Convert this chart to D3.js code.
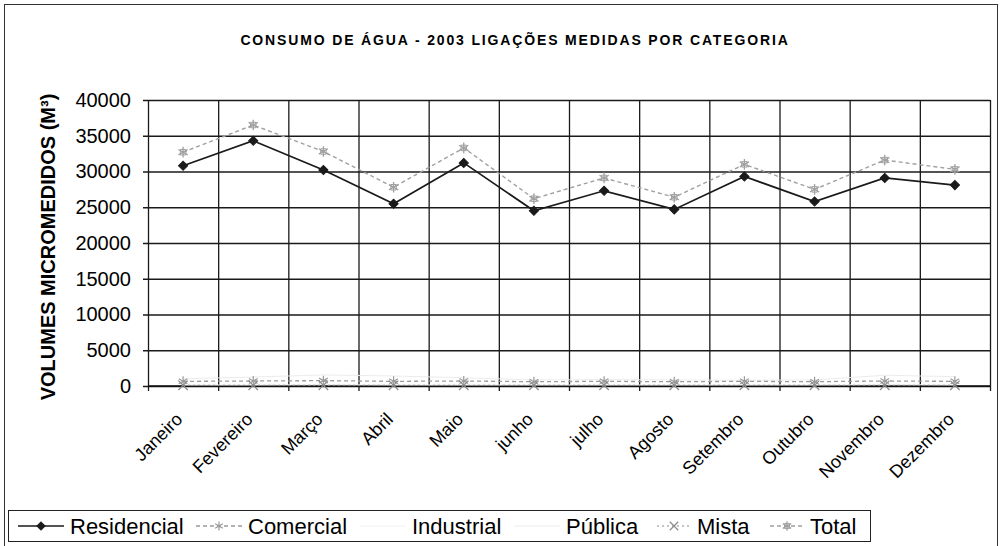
<!DOCTYPE html>
<html>
<head>
<meta charset="utf-8">
<script src="https://cdn.jsdelivr.net/npm/d3@7"></script>
<style>
  body { margin: 0; background: #fff; }
  svg { font-family: Arial, "Liberation Sans", sans-serif; }
  .grid line { stroke: #1a1a1a; stroke-width: 1.3; }
  .grid path { display: none; }
  .ytick text { font-size: 20px; fill: #000; }
  .xlab text { font-size: 18px; fill: #000; }
  .legend text { font-size: 22px; fill: #000; }
</style>
</head>
<body>
<svg width="1001" height="546"></svg>
<script>
// dados (m³ por mês)
var months = ['Janeiro', 'Fevereiro', 'Março', 'Abril', 'Maio', 'junho', 'julho',
  'Agosto', 'Setembro', 'Outubro', 'Novembro', 'Dezembro'];
var residencial = [30800, 34300, 30200, 25500, 31200, 24500, 27300, 24700, 29300, 25800, 29100, 28100];
var comercial = [650, 700, 750, 650, 700, 600, 650, 600, 650, 600, 700, 650];
var industrial = [150, 150, 200, 150, 150, 150, 150, 150, 150, 150, 200, 150];
var publica = [1000, 1250, 1550, 1400, 1150, 850, 900, 850, 800, 850, 1500, 1300];
var mista = [100, 100, 100, 100, 100, 100, 100, 100, 100, 100, 100, 100];
var total = [32700, 36500, 32800, 27800, 33300, 26200, 29100, 26400, 31000, 27500, 31600, 30300];
var yTicks = [0, 5000, 10000, 15000, 20000, 25000, 30000, 35000, 40000];

var svg = d3.select('svg');
var plot = { left: 148, right: 990, top: 100, bottom: 386 };

// moldura externa
svg.append('rect')
  .attr('x', 4.5).attr('y', 4.5)
  .attr('width', 993).attr('height', 600)
  .attr('fill', 'none').attr('stroke', '#333').attr('stroke-width', 1);

// titulo
svg.append('text')
  .attr('x', 515).attr('y', 45)
  .attr('text-anchor', 'middle')
  .style('font-size', '14px')
  .style('font-weight', 'bold')
  .style('letter-spacing', '1.85px')
  .text('CONSUMO DE ÁGUA - 2003 LIGAÇÕES MEDIDAS POR CATEGORIA');

var xBand = d3.scaleBand().domain(months).range([plot.left, plot.right]).padding(0);
var xEdge = d3.scaleLinear().domain([0, months.length]).range([plot.left, plot.right]);
var yScale = d3.scaleLinear().domain([0, 40000]).range([plot.bottom, plot.top]);
function cx(i) { return xBand(months[i]) + xBand.bandwidth() / 2; }

// grade horizontal + rótulos do eixo y
svg.append('g')
  .attr('class', 'grid ytick')
  .attr('transform', 'translate(' + plot.left + ',0)')
  .call(d3.axisLeft(yScale).tickValues(yTicks)
    .tickSize(-(plot.right - plot.left)).tickPadding(17)
    .tickFormat(d3.format('d')))
  .call(function(g) {
    g.selectAll('.tick line').attr('x1', -5);
  });

// grade vertical (limites das categorias)
svg.append('g')
  .attr('class', 'grid')
  .attr('transform', 'translate(0,' + plot.bottom + ')')
  .call(d3.axisBottom(xEdge).tickValues(d3.range(0, months.length + 1))
    .tickSize(-(plot.bottom - plot.top)).tickFormat(''))
  .call(function(g) {
    g.selectAll('.tick line').attr('y1', 5);
  });

// eixo x (linha do zero)
svg.append('line')
  .attr('x1', plot.left).attr('x2', plot.right)
  .attr('y1', plot.bottom).attr('y2', plot.bottom)
  .attr('stroke', '#111').attr('stroke-width', 1.6);

// rótulos do mês, inclinados
svg.append('g').attr('class', 'xlab')
  .selectAll('text')
  .data(months)
  .enter().append('text')
  .attr('transform', function(d, i) { return 'translate(' + (cx(i) - 4) + ',416) rotate(-45)'; })
  .attr('text-anchor', 'end')
  .attr('dy', '0.35em')
  .text(function(d) { return d; });

// axis label
svg.append('text')
  .attr('transform', 'translate(55,' + ((plot.top + plot.bottom) / 2 + 4) + ') rotate(-90)')
  .attr('text-anchor', 'middle')
  .style('font-size', '20px')
  .style('font-weight', 'bold')
  .text('VOLUMES MICROMEDIDOS (M³)');

var series = [
  { name: 'Residencial', values: residencial, color: '#1a1a1a', width: 1.7, dash: null, marker: 'diamond' },
  { name: 'Comercial', values: comercial, color: '#9a9a9a', width: 1.3, dash: '4,3', marker: 'asterisk' },
  { name: 'Industrial', values: industrial, color: '#f2f2f2', width: 1, dash: null, marker: 'none' },
  { name: 'Pública', values: publica, color: '#ececec', width: 1, dash: null, marker: 'none' },
  { name: 'Mista', values: mista, color: '#8a8a8a', width: 1.2, dash: '2,3', marker: 'cross' },
  { name: 'Total', values: total, color: '#a0a0a0', width: 1.4, dash: '4,3', marker: 'star' }
];

var line = d3.line()
  .x(function(d, i) { return cx(i); })
  .y(function(d) { return yScale(d); });

function drawMarker(g, type, color, scale) {
  var k = scale || 1;
  if (type === 'diamond') {
    g.append('path').attr('d', d3.symbol(d3.symbolSquare, 42 * k)())
      .attr('transform', 'rotate(45)')
      .attr('fill', color).attr('stroke', color);
  } else if (type === 'asterisk') {
    g.append('path').attr('d', d3.symbol(d3.symbolAsterisk, 70 * k)())
      .attr('fill', 'none').attr('stroke', color).attr('stroke-width', 1.2);
  } else if (type === 'cross') {
    g.append('path').attr('d', d3.symbol(d3.symbolTimes, 60 * k)())
      .attr('fill', 'none').attr('stroke', color).attr('stroke-width', 1.2);
  } else if (type === 'star') {
    g.append('path').attr('d', d3.symbol(d3.symbolAsterisk, 80 * k)())
      .attr('fill', 'none').attr('stroke', color).attr('stroke-width', 1.3);
    g.append('path').attr('d', d3.symbol(d3.symbolSquare, 30 * k)())
      .attr('fill', 'none').attr('stroke', color).attr('stroke-width', 1);
  }
}

// desenhar séries (total e residencial por cima)
var order = [3, 2, 1, 4, 5, 0];
order.forEach(function(k) {
  var s = series[k];
  svg.append('path')
    .datum(s.values)
    .attr('fill', 'none')
    .attr('stroke', s.color)
    .attr('stroke-width', s.width)
    .attr('stroke-dasharray', s.dash)
    .attr('d', line);
  s.values.forEach(function(v, i) {
    var g = svg.append('g').attr('transform', 'translate(' + cx(i) + ',' + yScale(v) + ')');
    drawMarker(g, s.marker, s.color);
  });
});

// legenda
var legText = [70, 248, 412, 566, 697, 810];
var legend = svg.append('g').attr('class', 'legend');
legend.append('rect')
  .attr('x', 8.5).attr('y', 510.5)
  .attr('width', 862).attr('height', 31)
  .attr('fill', '#fff').attr('stroke', '#222').attr('stroke-width', 1);

series.forEach(function(s, i) {
  var g = legend.append('g').attr('transform', 'translate(' + legText[i] + ',526)');
  var symW = (i >= 4) ? 34 : 46;
  g.append('line')
    .attr('x1', -6 - symW).attr('x2', -6)
    .attr('stroke', s.color).attr('stroke-width', s.width)
    .attr('stroke-dasharray', s.dash);
  var m = g.append('g').attr('transform', 'translate(' + (-6 - symW / 2) + ',0)');
  drawMarker(m, s.marker, s.color, 0.8);
  g.append('text')
    .attr('x', 0).attr('dy', '0.35em')
    .text(s.name);
});
</script>
</body>
</html>
